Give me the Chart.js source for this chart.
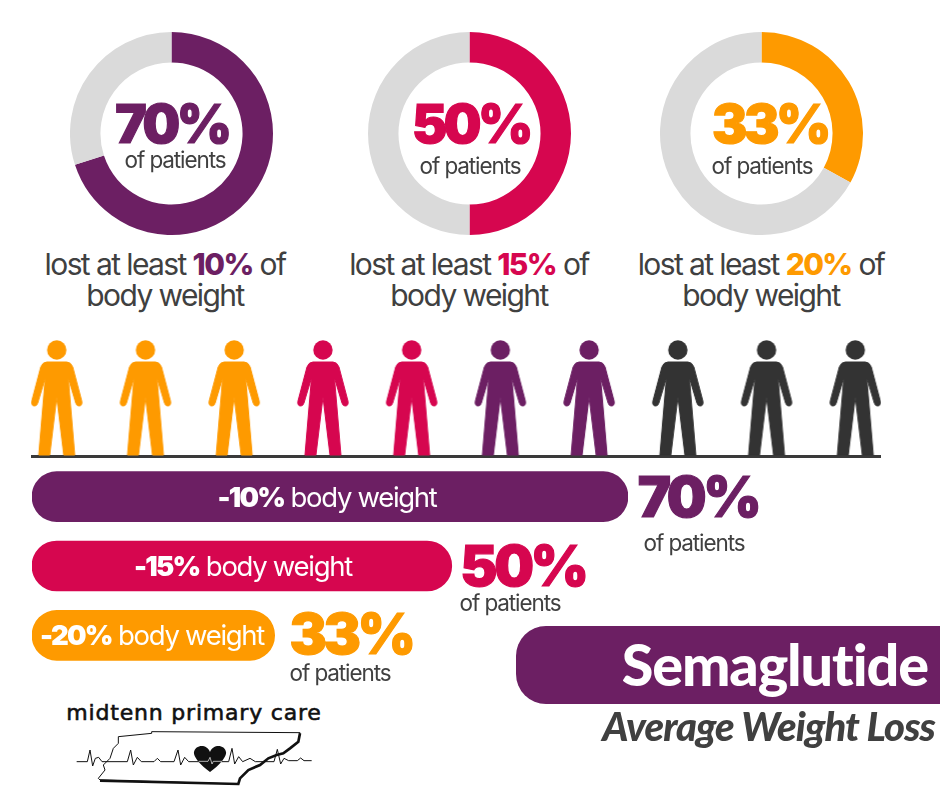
<!DOCTYPE html>
<html>
<head>
<meta charset="utf-8">
<script src="https://cdn.jsdelivr.net/npm/chart.js@4"></script>
<style>
  html, body { margin: 0; padding: 0; background: #fff; }
  #page { position: relative; width: 940px; height: 788px; overflow: hidden; font-family: Inter, "Noto Sans", sans-serif; color: #404040; }
  canvas { position: absolute; }
  .t { position: absolute; transform: translate(-50%, -50%); white-space: nowrap; }
  .big { font-weight: 900; letter-spacing: -3.4px; -webkit-text-stroke: 1.2px currentColor; }
  .small { font-size: 22.5px; letter-spacing: -1.1px; }
  .line { font-size: 30px; letter-spacing: -1.6px; }
  .line b { font-weight: 800; }
  .bar { font-size: 27.5px; letter-spacing: -1.3px; color: #fff; }
  .bar b { font-weight: 900; letter-spacing: -1.8px; }
  #banner { position: absolute; left: 516px; top: 626px; width: 424px; height: 78px; background: #6c1f63; border-radius: 30px 0 0 30px; }
  #title { position: absolute; right: 12px; top: 629px; font: 900 57.5px Lato, sans-serif; color: #fff; letter-spacing: -1.1px; }
  #subtitle { position: absolute; right: 5px; top: 702px; font: italic 900 40px Lato, sans-serif; color: #404040; letter-spacing: -0.9px; }
  #logoName { left: 194px; top: 712px; font: 400 22px "DejaVu Sans", sans-serif; letter-spacing: 0.8px; color: #111; -webkit-text-stroke: 0.6px #111; }
  svg { position: absolute; left: 50px; top: 690px; }
</style>
</head>
<body>
<div id="page">
  <canvas id="ring0" width="203" height="203" style="left:70px;top:32px"></canvas>
  <canvas id="ring1" width="203" height="203" style="left:368px;top:32px"></canvas>
  <canvas id="ring2" width="203" height="203" style="left:660px;top:32px"></canvas>
  <canvas id="people" width="850" height="140" style="left:31px;top:328px"></canvas>
  <canvas id="bars" width="596" height="208" style="left:32px;top:462px"></canvas>
  <div id="banner"></div>
  <div id="title">Semaglutide</div>
  <div id="subtitle">Average Weight Loss</div>
  <div id="logoName" class="t">midtenn primary care</div>
  <svg width="290" height="98" viewBox="0 0 870 294">
    <path d="M205,140 L305,130 L305,125 L750,128 L745,155 L720,175 L700,190 L680,195 L655,205 L630,225 L595,240 L570,265 L565,282 L150,270 L145,265 L165,240 L160,225 L180,205 L190,175 L205,160 Z" fill="none" stroke="#111" stroke-width="3"/>
    <path d="M750,130 L745,155 L720,175 L700,190 L680,195 L655,205 L630,225 L595,240 L570,265 L565,282 L150,272" fill="none" stroke="#111" stroke-width="8"/>
    <path d="M80,215 L112,215 L120,180 L128,228 L136,205 L146,202 L156,215 L232,215 L242,180 L250,225 L262,202 L274,215 L312,215 L322,205 L332,215 L372,215 L384,180 L392,225 L404,202 L416,215 L536,215 L546,175 L554,222 L566,200 L578,215 L600,205 L616,215 L672,215 L682,178 L692,222 L702,205 L716,212 L742,212 L752,204 L762,212 L785,212" fill="none" stroke="#111" stroke-width="3"/>
    <path d="M480,246 C440,216 430,196 432,186 C436,164 470,160 480,186 C490,160 525,164 528,186 C530,196 520,216 480,246 Z" fill="#111"/>
    <path d="M446,214 L474,214 L480,202 L486,222 L490,214 L516,214" fill="none" stroke="#fff" stroke-width="2"/>
  </svg>
</div>
<script>
// top row
const ringPercents = [70, 50, 33];
const ringLoss = ['10%', '15%', '20%'];
const ringColors = ['#6c1f63', '#d6064f', '#fe9a00'];
const ringRest = '#dadada';

// row of figures, left to right
const personIndex = [0, 1, 2, 3, 4, 5, 6, 7, 8, 9];
const personColors = ['#fe9a00', '#fe9a00', '#fe9a00', '#d6064f', '#d6064f', '#6c1f63', '#6c1f63', '#333333', '#333333', '#333333'];

// bars: the picture does not draw them to scale with the percents,
// so these are the lengths as seen, on a scale where the top bar is 70
const barNames = ['-10%', '-15%', '-20%'];
const barLengths = [70, 49.3, 28.5];
const barPercents = ['70%', '50%', '33%'];
const barColors = ['#6c1f63', '#d6064f', '#fe9a00'];

Chart.defaults.animation = false;
Chart.defaults.responsive = false;
Chart.defaults.plugins.legend.display = false;
Chart.defaults.plugins.tooltip.enabled = false;

var page = document.getElementById('page');

function addText(cls, x, y, html, style) {
  var el = document.createElement('div');
  el.className = 't ' + cls;
  el.style.left = x + 'px';
  el.style.top = y + 'px';
  el.innerHTML = html;
  if (style) Object.assign(el.style, style);
  page.appendChild(el);
}

// doughnuts
ringPercents.forEach(function (p, i) {
  new Chart(document.getElementById('ring' + i), {
    type: 'doughnut',
    data: {
      labels: ['patients', 'rest'],
      datasets: [{ data: [p, 100 - p], backgroundColor: [ringColors[i], ringRest], borderWidth: 0 }]
    },
    options: { cutout: '70%' }
  });
});

var ringTextX = [172, 471, 770];
var ringNoteX = [175, 470, 762];
var lineX = [165, 469, 761];
ringPercents.forEach(function (p, i) {
  addText('big', ringTextX[i], 124, p + '%', { fontSize: '53px', color: ringColors[i] });
  addText('small', ringNoteX[i], 159 + (i ? 6 : 0), 'of patients');
  addText('line', lineX[i], 264, 'lost at least <b style="color:' + ringColors[i] + '">' + ringLoss[i] + '</b> of');
  addText('line', lineX[i], 295, 'body weight');
});

// figure on a canvas twice its height, feet on the middle so the point sits on the floor
function makePerson(color) {
  var c = document.createElement('canvas');
  c.width = 56;
  c.height = 236;
  var g = c.getContext('2d');
  g.translate(28, 118);
  g.fillStyle = color;
  g.strokeStyle = color;
  g.lineWidth = 1;
  g.lineJoin = 'round';
  g.beginPath();
  g.arc(0, -106, 9.7, 0, Math.PI * 2);
  g.fill();
  g.beginPath();
  g.moveTo(-10, -94);
  g.lineTo(10, -94);
  g.quadraticCurveTo(14, -94, 16, -89);
  g.lineTo(25, -55);
  g.quadraticCurveTo(26, -50, 22, -50);
  g.quadraticCurveTo(20, -50, 19, -53);
  g.lineTo(11.5, -78);
  g.lineTo(18, -1);
  g.lineTo(7, -1);
  g.lineTo(0, -59);
  g.lineTo(-7, -1);
  g.lineTo(-18, -1);
  g.lineTo(-11.5, -78);
  g.lineTo(-19, -53);
  g.quadraticCurveTo(-20, -50, -22, -50);
  g.quadraticCurveTo(-26, -50, -25, -55);
  g.lineTo(-16, -89);
  g.quadraticCurveTo(-14, -94, -10, -94);
  g.closePath();
  g.fill();
  g.stroke();
  return c;
}

new Chart(document.getElementById('people'), {
  type: 'scatter',
  data: {
    datasets: [{
      data: personIndex.map(function (x) { return { x: x, y: 0 }; }),
      pointStyle: personColors.map(makePerson)
    }]
  },
  options: {
    layout: { autoPadding: false, padding: { bottom: 12 } },
    scales: {
      x: {
        min: -0.29, max: 9.29,
        ticks: { display: false },
        grid: { display: false, drawTicks: false },
        border: { color: '#3a3a3a', width: 3 }
      },
      y: { display: false, min: 0, max: 1 }
    }
  }
});

// bars
new Chart(document.getElementById('bars'), {
  type: 'bar',
  data: {
    labels: barNames,
    datasets: [{
      data: barLengths,
      backgroundColor: barColors,
      barThickness: 50,
      borderRadius: 25,
      borderSkipped: false
    }]
  },
  options: {
    indexAxis: 'y',
    scales: {
      x: { display: false, min: 0, max: 70 },
      y: { display: false }
    }
  }
});

var barTextX = [327, 243, 152];
var barY = [497, 566, 635];
var percentX = [698, 523, 351];
var percentY = [497, 566, 634];
var noteX = [694, 510, 340];
var noteY = [542, 602, 672];
barNames.forEach(function (n, i) {
  addText('bar', barTextX[i], barY[i], '<b>' + n + '</b> body weight');
  addText('big', percentX[i], percentY[i], barPercents[i], { fontSize: '56px', color: barColors[i] });
  addText('small', noteX[i], noteY[i], 'of patients');
});
</script>
</body>
</html>
